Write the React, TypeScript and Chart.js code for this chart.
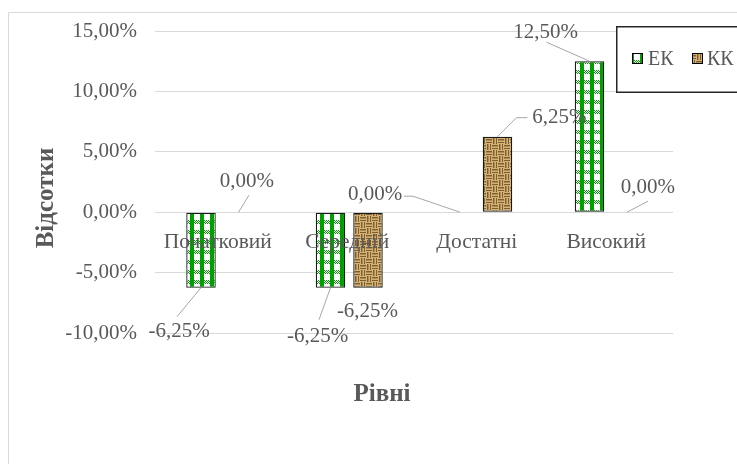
import React, { useEffect, useRef } from 'react';
import { Chart, registerables } from 'chart.js';

Chart.register(...registerables);

const categories = ['Початковий', 'Середній', 'Достатні', 'Високий'];
const seriesNames = ['ЕК', 'КК'];
const ekValues = [-6.25, -6.25, 0, 12.5];
const kkValues = [0, -6.25, 6.25, 0];
const yMin = -10;
const yMax = 15;
const yStep = 5;
const yTitle = 'Відсотки';
const xTitle = 'Рівні';

// label text centre relative to the bar end, plus leader line points relative to text centre
const labelLayout = [
  [
    { dx: -22, dy: 44, line: [[-2, -15]] },
    { dx: -13, dy: 49, line: [[1.5, -17]] },
    { dx: -85, dy: -18, line: [[38, 2], [29, 2]] },
    { dx: -44, dy: -29, line: [[1, 10]] },
  ],
  [
    { dx: 8.5, dy: -31, line: [[2, 14]] },
    { dx: -0.5, dy: 24, line: null },
    { dx: 62, dy: -19, line: [[-43, 0], [-32, 0]] },
    { dx: 21, dy: -25, line: [[0, 14]] },
  ],
];

const TEXT = '#595959';
const FONT = 'Liberation Serif, "Times New Roman", serif';

const fmt = (v: number) => v.toFixed(2).replace('.', ',') + '%';

function makeEKPattern(ctx: CanvasRenderingContext2D) {
  const c = document.createElement('canvas');
  c.width = 10;
  c.height = 10;
  const g = c.getContext('2d')!;
  g.fillStyle = '#ffffff';
  g.fillRect(0, 0, 10, 10);
  const green = '#00a000';
  for (let y = 0; y < 10; y++) {
    for (let x = 0; x < 10; x++) {
      const vs = x < 4;
      const hs = y < 4;
      let col: string | null = null;
      if (vs) col = green;
      else if (hs) col = (x + y) % 2 === 0 ? green : null;
      if (col) {
        g.fillStyle = col;
        g.fillRect(x, y, 1, 1);
      }
    }
  }
  return ctx.createPattern(c, 'repeat')!;
}

function makeKKPattern(ctx: CanvasRenderingContext2D) {
  const c = document.createElement('canvas');
  c.width = 12;
  c.height = 12;
  const g = c.getContext('2d')!;
  g.fillStyle = '#d2b277';
  g.fillRect(0, 0, 12, 12);
  const dark = '#7f5d2c';
  const mid = '#ae8b52';
  const blocks = [
    [0, 0, 'h'],
    [6, 0, 'v'],
    [0, 6, 'v'],
    [6, 6, 'h'],
  ] as const;
  for (const [bx, by, dir] of blocks) {
    for (let i = 0; i < 6; i++) {
      for (let j = 0; j < 6; j++) {
        const k = dir === 'h' ? j : i;
        if (k === 1 || k === 4) {
          g.fillStyle = dark;
          g.fillRect(bx + i, by + j, 1, 1);
        } else if (k === 2) {
          g.fillStyle = mid;
          g.fillRect(bx + i, by + j, 1, 1);
        }
      }
    }
  }
  return ctx.createPattern(c, 'repeat')!;
}

export default function App() {
  const ref = useRef<HTMLCanvasElement>(null);

  useEffect(() => {
    const canvas = ref.current!;
    const ctx = canvas.getContext('2d')!;
    const ekPat = makeEKPattern(ctx);
    const kkPat = makeKKPattern(ctx);
    const fills = [ekPat, kkPat];

    const decor = {
      id: 'decor',
      beforeDraw(chart: any) {
        const c = chart.ctx;
        c.save();
        c.fillStyle = '#ffffff';
        c.fillRect(0, 0, chart.width, chart.height);
        c.strokeStyle = '#d9d9d9';
        c.lineWidth = 1;
        c.beginPath();
        c.moveTo(8.5, chart.height + 2);
        c.lineTo(8.5, 12.5);
        c.lineTo(chart.width + 2, 12.5);
        c.stroke();
        c.restore();
      },
      afterDatasetsDraw(chart: any) {
        const c = chart.ctx;
        const xs = chart.scales.x;
        const ys = chart.scales.y;
        c.save();
        // category labels next to the zero line
        c.fillStyle = TEXT;
        c.font = `21.5px ${FONT}`;
        c.textAlign = 'center';
        c.textBaseline = 'middle';
        const zeroY = ys.getPixelForValue(0);
        categories.forEach((cat, i) => {
          c.fillText(cat, xs.getPixelForValue(i) - 2, zeroY + 30);
        });
        // data labels with leader lines
        c.font = `21px ${FONT}`;
        chart.data.datasets.forEach((ds: any, di: number) => {
          const meta = chart.getDatasetMeta(di);
          meta.data.forEach((el: any, i: number) => {
            const lay = labelLayout[di][i];
            const tx = el.x + lay.dx;
            const ty = el.y + lay.dy;
            if (lay.line) {
              c.strokeStyle = '#a6a6a6';
              c.lineWidth = 1;
              c.beginPath();
              c.moveTo(el.x, el.y);
              lay.line.forEach((p: number[]) => c.lineTo(tx + p[0], ty + p[1]));
              c.stroke();
            }
            c.fillStyle = TEXT;
            c.fillText(fmt(ds.data[i]), tx, ty);
          });
        });
        c.restore();
      },
      afterDraw(chart: any) {
        const c = chart.ctx;
        const area = chart.chartArea;
        c.save();
        // axis titles
        c.fillStyle = TEXT;
        c.font = `bold 25px ${FONT}`;
        c.textAlign = 'center';
        c.textBaseline = 'middle';
        c.fillText(xTitle, 382, area.bottom + 62);
        c.save();
        c.translate(47, 198);
        c.rotate(-Math.PI / 2);
        c.fillText(yTitle, 0, 0);
        c.restore();
        // legend
        c.fillStyle = '#ffffff';
        c.fillRect(616, 26, 140, 66);
        c.strokeStyle = '#262626';
        c.lineWidth = 1.5;
        c.strokeRect(616.75, 26.75, 140, 65.5);
        const items = [
          { mx: 632, tx: 648 },
          { mx: 692, tx: 707 },
        ];
        chart.data.datasets.forEach((ds: any, di: number) => {
          const it = items[di];
          c.fillStyle = fills[di];
          c.fillRect(it.mx, 53, 11, 11);
          c.strokeStyle = '#000000';
          c.lineWidth = 1;
          c.strokeRect(it.mx + 0.5, 53.5, 10, 10);
          c.fillStyle = TEXT;
          c.font = `20px ${FONT}`;
          c.textAlign = 'left';
          c.fillText(ds.label, it.tx, 59.5);
        });
        c.restore();
      },
    };

    const chart = new Chart(canvas, {
      type: 'bar',
      data: {
        labels: categories,
        datasets: [
          {
            label: seriesNames[0],
            data: ekValues,
            backgroundColor: ekPat as any,
            borderColor: '#1a1a1a',
            borderWidth: (c: any) => (c.raw === 0 ? 0 : 1.3),
            borderSkipped: false,
          },
          {
            label: seriesNames[1],
            data: kkValues,
            backgroundColor: kkPat as any,
            borderColor: '#1a1a1a',
            borderWidth: (c: any) => (c.raw === 0 ? 0 : 1.3),
            borderSkipped: false,
          },
        ],
      },
      options: {
        responsive: false,
        animation: false,
        devicePixelRatio: 1,
        layout: { padding: { left: 0, top: 31, right: 64, bottom: 131 } },
        datasets: {
          bar: { categoryPercentage: 0.579, barPercentage: 0.787 },
        },
        plugins: {
          legend: { display: false },
          tooltip: { enabled: false },
          title: { display: false },
        },
        scales: {
          x: { display: false },
          y: {
            min: yMin,
            max: yMax,
            border: { display: false },
            grid: { color: '#d9d9d9', lineWidth: 1, drawTicks: false },
            ticks: {
              stepSize: yStep,
              padding: 18,
              color: TEXT,
              font: { family: FONT, size: 21 },
              callback: (v: any) => fmt(Number(v)),
            },
            afterFit: (s: any) => {
              s.width = 155;
            },
          },
        },
      },
      plugins: [decor],
    });
    return () => chart.destroy();
  }, []);

  return (
    <div style={{ position: 'fixed', left: 0, top: 0, width: 737, height: 464, background: '#fff' }}>
      <canvas ref={ref} width={737} height={464} style={{ display: 'block' }} />
    </div>
  );
}
